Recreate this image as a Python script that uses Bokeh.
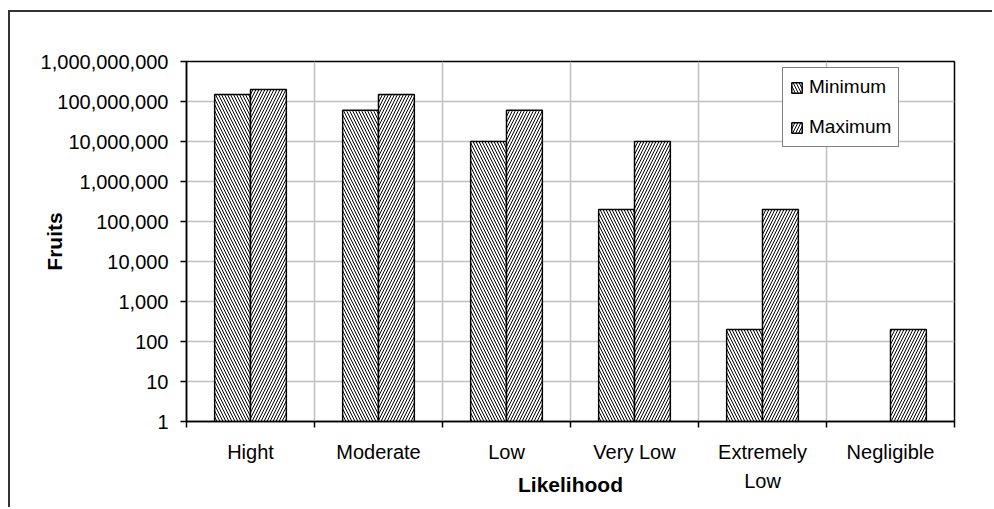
import numpy as np
from bokeh.plotting import figure
from bokeh.models import (ColumnDataSource, FixedTicker, Legend, LegendItem)
from bokeh.transform import dodge
from bokeh.embed import file_html
from bokeh.resources import INLINE

# ---- data ----
categories = ["Hight", "Moderate", "Low", "Very Low", "Extremely\nLow", "Negligible"]
minimum = [1.5e8, 6e7, 1e7, 2e5, 200, np.nan]
maximum = [2e8, 1.5e8, 6e7, 1e7, 2e5, 200]
y_ticks = [1, 10, 100, 1000, 10000, 100000, 1000000, 10000000, 100000000, 1000000000]
y_tick_labels = ["1", "10", "100", "1,000", "10,000", "100,000", "1,000,000",
                 "10,000,000", "100,000,000", "1,000,000,000"]

pos = [i + 0.5 for i in range(len(categories))]
src = ColumnDataSource(dict(x=pos, mn=minimum, mx=maximum, base=[1] * len(pos)))

FONT = "Liberation Sans"

p = figure(width=984, height=497, output_backend="svg", toolbar_location=None,
           y_axis_type="log", x_range=(0, len(categories)), y_range=(1, 1e9),
           min_border_left=176, min_border_right=40, min_border_top=49,
           min_border_bottom=88, background_fill_color="white",
           border_fill_color="white")
p.styles = {"border-left": "2px solid #333333", "border-top": "2px solid #333333",
            "margin-left": "8px", "margin-top": "10px"}

p.outline_line_color = "black"
p.outline_line_width = 1.5

r_min = p.vbar(x=dodge("x", -0.14, range=p.x_range), top="mn", bottom="base",
               width=0.28, source=src, fill_color="white", line_color="black",
               line_width=1.5, hatch_pattern="\\", hatch_color="black",
               hatch_scale=6, hatch_weight=1)
r_max = p.vbar(x=dodge("x", 0.14, range=p.x_range), top="mx", bottom="base",
               width=0.28, source=src, fill_color="white", line_color="black",
               line_width=1.5, hatch_pattern="/", hatch_color="black",
               hatch_scale=6, hatch_weight=1)

# x axis: labels at centres, ticks at boundaries
xa = p.xaxis[0]
xa.ticker = FixedTicker(ticks=pos, minor_ticks=list(range(len(categories) + 1)))
xa.major_label_overrides = {v: c for v, c in zip(pos, categories)}
xa.major_tick_line_color = None
xa.major_tick_out = 0
xa.major_tick_in = 0
xa.minor_tick_line_color = "black"
xa.minor_tick_line_width = 1.5
xa.minor_tick_out = 6
xa.minor_tick_in = 0
xa.major_label_standoff = 13
xa.major_label_text_font = FONT
xa.major_label_text_font_size = "20px"
xa.major_label_text_color = "black"
xa.major_label_text_line_height = 1.35
xa.axis_line_color = "black"
xa.axis_line_width = 1.5
xa.axis_label = "Likelihood"
xa.axis_label_text_font = FONT
xa.axis_label_text_font_style = "bold"
xa.axis_label_text_font_size = "21px"
xa.axis_label_text_color = "black"
xa.axis_label_standoff = -22

ya = p.yaxis[0]
ya.ticker = FixedTicker(ticks=y_ticks, minor_ticks=[])
ya.major_label_overrides = {v: s for v, s in zip(y_ticks, y_tick_labels)}
ya.major_tick_line_color = "black"
ya.major_tick_line_width = 1.5
ya.major_tick_out = 6
ya.major_tick_in = 0
ya.minor_tick_line_color = None
ya.major_label_standoff = 12
ya.major_label_text_font = FONT
ya.major_label_text_font_size = "20px"
ya.major_label_text_color = "black"
ya.axis_line_color = "black"
ya.axis_line_width = 1.5
ya.axis_label = "Fruits"
ya.axis_label_text_font = FONT
ya.axis_label_text_font_style = "bold"
ya.axis_label_text_font_size = "21px"
ya.axis_label_text_color = "black"
ya.axis_label_standoff = -28

p.xgrid.ticker = FixedTicker(ticks=list(range(len(categories) + 1)))
p.ygrid.ticker = FixedTicker(ticks=y_ticks)
for g in (p.xgrid[0], p.ygrid[0]):
    g.grid_line_color = "#c0c0c0"
    g.grid_line_width = 1.5

legend = Legend(items=[LegendItem(label="Minimum", renderers=[r_min]),
                       LegendItem(label="Maximum", renderers=[r_max])],
                location=(596, 274), orientation="vertical")
legend.margin = 0
legend.padding = 7
legend.spacing = 16
legend.glyph_width = 13
legend.glyph_height = 13
legend.label_height = 24
legend.label_standoff = 6
legend.label_text_font = FONT
legend.label_text_font_size = "19px"
legend.label_text_color = "black"
legend.border_line_color = "black"
legend.border_line_width = 1.5
legend.background_fill_color = "white"
legend.background_fill_alpha = 1
p.add_layout(legend, "center")

open("out.html", "w").write(file_html(p, INLINE))
